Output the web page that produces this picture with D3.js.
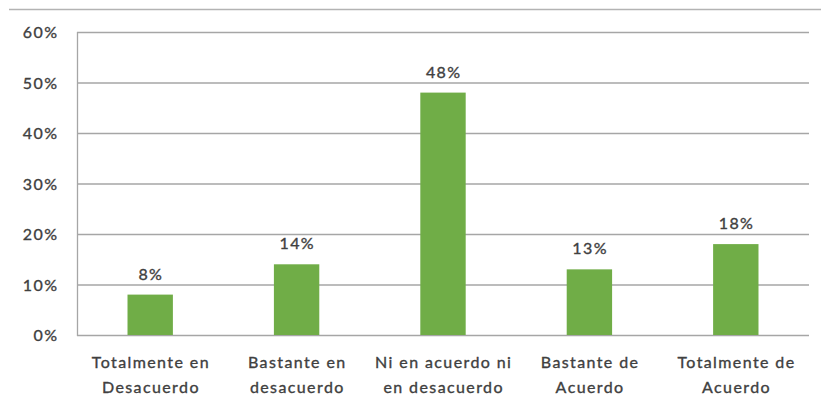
<!DOCTYPE html>
<html>
<head>
<meta charset="utf-8">
<script src="https://cdn.jsdelivr.net/npm/d3@7"></script>
<style>
  html, body { margin: 0; padding: 0; background: #ffffff; }
  svg { display: block; }
  text { font-family: Lato, "Open Sans", sans-serif; fill: #404040; stroke: #404040; stroke-width: 0.35px; }
</style>
</head>
<body>
<svg id="chart" width="821" height="409"></svg>
<script>
// Response categories (each label split into its two display lines)
const categories = [
  ["Totalmente en", "Desacuerdo"],
  ["Bastante en", "desacuerdo"],
  ["Ni en acuerdo ni", "en desacuerdo"],
  ["Bastante de", "Acuerdo"],
  ["Totalmente de", "Acuerdo"]
];
// Share of respondents, percent
const values = [8, 14, 48, 13, 18];
// Y axis ticks, percent
const yTicks = [0, 10, 20, 30, 40, 50, 60];

const svg = d3.select("#chart");
const margin = { left: 77, right: 12, top: 32, bottom: 74 };
const W = 821, H = 409;
const spacing = 1.4;

const x = d3.scaleBand()
  .domain(d3.range(categories.length))
  .range([margin.left, W - margin.right])
  .paddingInner(0.69)
  .paddingOuter(0.345);

const y = d3.scaleLinear()
  .domain([0, 60])
  .range([H - margin.bottom, margin.top]);

// outer frame line along the top
svg.append("line")
  .attr("x1", 9).attr("x2", W)
  .attr("y1", 9.5).attr("y2", 9.5)
  .attr("stroke", "#b3b3b3").attr("stroke-width", 1.5);

// horizontal gridlines
svg.append("g")
  .selectAll("line")
  .data(yTicks)
  .join("line")
  .attr("x1", margin.left)
  .attr("x2", W - margin.right)
  .attr("y1", d => y(d) + 0.5)
  .attr("y2", d => y(d) + 0.5)
  .attr("stroke", "#a6a6a6")
  .attr("stroke-width", 1.3);

// vertical axis line
svg.append("line")
  .attr("x1", margin.left + 0.5).attr("x2", margin.left + 0.5)
  .attr("y1", y(60)).attr("y2", y(0) + 1)
  .attr("stroke", "#a6a6a6").attr("stroke-width", 1.3);

// y tick labels
const yAxis = d3.axisLeft(y)
  .tickValues(yTicks)
  .tickFormat(d => d + "%")
  .tickSize(0)
  .tickPadding(20 - spacing);
const gy = svg.append("g")
  .attr("transform", `translate(${margin.left},0)`)
  .call(yAxis);
gy.select(".domain").remove();
gy.selectAll("text")
  .attr("dy", "0.35em")
  .style("font-size", "16px")
  .style("letter-spacing", spacing + "px")
  .style("font-family", "Lato, sans-serif")
  .attr("fill", "#404040");

// bars
svg.append("g")
  .selectAll("rect")
  .data(values)
  .join("rect")
  .attr("x", (d, i) => x(i))
  .attr("width", x.bandwidth())
  .attr("y", d => y(d))
  .attr("height", d => y(0) - y(d))
  .attr("fill", "#70ad47");

// value labels
svg.append("g")
  .selectAll("text")
  .data(values)
  .join("text")
  .attr("x", (d, i) => x(i) + x.bandwidth() / 2 + spacing / 2)
  .attr("y", d => y(d) - 15)
  .attr("text-anchor", "middle")
  .style("font-size", "16px")
  .style("letter-spacing", spacing + "px")
  .text(d => d + "%");

// category labels, two lines each
const xl = svg.append("g")
  .selectAll("text")
  .data(categories)
  .join("text")
  .attr("x", (d, i) => x(i) + x.bandwidth() / 2 + spacing / 2)
  .attr("y", 368)
  .attr("text-anchor", "middle")
  .style("font-size", "16px")
  .style("letter-spacing", spacing + "px");
xl.selectAll("tspan")
  .data(d => d)
  .join("tspan")
  .attr("x", function () { return this.parentNode.getAttribute("x"); })
  .attr("dy", (d, j) => j === 0 ? 0 : 25)
  .text(d => d);
</script>
</body>
</html>
